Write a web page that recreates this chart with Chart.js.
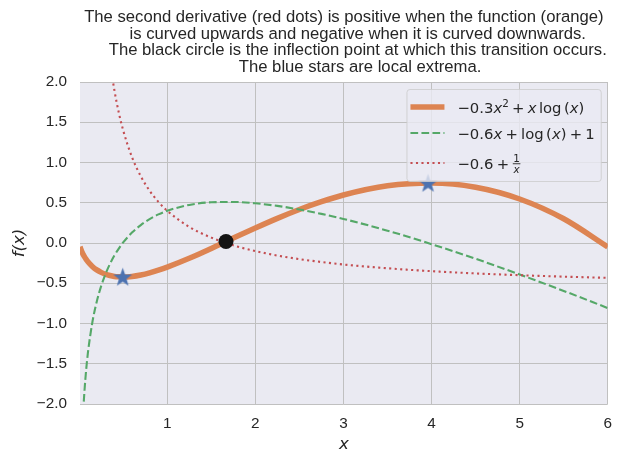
<!DOCTYPE html>
<html>
<head>
<meta charset="utf-8">
<style>
  body { margin: 0; background: #ffffff; }
  .chart-container { width: 623px; height: 463px; }
</style>
</head>
<body>
<script src="https://cdn.jsdelivr.net/npm/chart.js@4.4.0/dist/chart.umd.min.js"></script>
<div class="chart-container"><canvas id="myChart" width="623" height="463"></canvas></div>
<script>
// values
const xs   = [0.01, 0.02, 0.03, 0.04, 0.05, 0.06, 0.08, 0.1, 0.15, 0.2, 0.25, 0.3, 0.35, 0.4, 0.45, 0.5,
              0.6, 0.7, 0.8, 0.9, 1.0, 1.25, 1.5, 1.75, 2.0, 2.25, 2.5, 2.75, 3.0, 3.5, 4.0, 4.5, 5.0, 5.5, 6.0];
const fx   = [-0.046, -0.078, -0.106, -0.129, -0.151, -0.170, -0.204, -0.233, -0.291, -0.334, -0.365, -0.388, -0.404, -0.415, -0.420, -0.422,
              -0.415, -0.397, -0.371, -0.338, -0.300, -0.190, -0.067, 0.061, 0.186, 0.306, 0.416, 0.513, 0.596, 0.710, 0.745, 0.693, 0.547, 0.301, -0.049];
const dfx  = [-3.611, -2.924, -2.525, -2.243, -2.026, -1.849, -1.574, -1.363, -0.987, -0.729, -0.536, -0.384, -0.260, -0.156, -0.069, 0.007,
              0.129, 0.223, 0.297, 0.355, 0.400, 0.473, 0.506, 0.510, 0.493, 0.461, 0.416, 0.362, 0.299, 0.153, -0.014, -0.196, -0.391, -0.595, -0.808];
const ddfx = [99.4, 49.4, 32.73, 24.4, 19.4, 16.07, 11.9, 9.4, 6.07, 4.4, 3.4, 2.733, 2.257, 1.9, 1.622, 1.4,
              1.067, 0.829, 0.65, 0.511, 0.4, 0.2, 0.067, -0.029, -0.1, -0.156, -0.2, -0.236, -0.267, -0.314, -0.35, -0.378, -0.4, -0.418, -0.433];
const extremaX = [0.495, 3.96];
const extremaY = [-0.422, 0.745];
const inflectionX = [1.667];
const inflectionY = [0.018];
const xTicks = [1, 2, 3, 4, 5, 6];
const yTicks = [-2.0, -1.5, -1.0, -0.5, 0.0, 0.5, 1.0, 1.5, 2.0];
const titleLines = [
  'The second derivative (red dots) is positive when the function (orange)',
  '      is curved upwards and negative when it is curved downwards.',
  '      The black circle is the inflection point at which this transition occurs.',
  '       The blue stars are local extrema.'
];
// sp = extra space in em, op = binary operator with medium space round it
const legendLabels = [
  [{t: '\u22120.3'}, {t: 'x', it: 1}, {t: '2', sup: 1}, {t: '+', op: 1}, {t: 'x', it: 1}, {sp: 0.17}, {t: 'log'}, {sp: 0.17}, {t: '('}, {t: 'x', it: 1}, {t: ')'}],
  [{t: '\u22120.6'}, {t: 'x', it: 1}, {t: '+', op: 1}, {t: 'log'}, {sp: 0.17}, {t: '('}, {t: 'x', it: 1}, {t: ')'}, {t: '+', op: 1}, {t: '1'}],
  [{t: '\u22120.6'}, {t: '+', op: 1}, {frac: ['1', 'x']}]
];

const orange = '#DD8452', green = '#55A868', red = '#C44E52', blue = '#4C72B0';
const textColor = '#262626';

const pts = (xa, ya) => xa.map((x, i) => ({x: x, y: ya[i]}));

// filled five point star for the extrema markers
const star = document.createElement('canvas');
star.width = 21; star.height = 21;
(function () {
  const c = star.getContext('2d');
  c.beginPath();
  for (let i = 0; i < 10; i++) {
    const r = i % 2 ? 4.0 : 10.0;
    const a = -Math.PI / 2 + i * Math.PI / 5;
    c.lineTo(10.5 + r * Math.cos(a), 11.2 + r * Math.sin(a));
  }
  c.closePath();
  c.fillStyle = blue;
  c.fill();
})();

// little mathtext-ish writer for the legend
function mathText(ctx, segs, x, y, size, draw) {
  const x0 = x;
  segs.forEach(s => {
    if (s.sp) {
      x += s.sp * size;
    } else if (s.frac) {
      const fs = size * 0.7;
      ctx.font = fs + 'px "DejaVu Sans"';
      const w1 = ctx.measureText(s.frac[0]).width;
      ctx.font = 'italic ' + fs + 'px "DejaVu Sans"';
      const w2 = ctx.measureText(s.frac[1]).width;
      const w = Math.max(w1, w2) + 2;
      if (draw) {
        const axis = y - size * 0.32;
        ctx.fillRect(x + 0.5, axis - 0.45, w - 1, 0.9);
        ctx.font = fs + 'px "DejaVu Sans"';
        ctx.fillText(s.frac[0], x + (w - w1) / 2, axis - 2);
        ctx.font = 'italic ' + fs + 'px "DejaVu Sans"';
        ctx.fillText(s.frac[1], x + (w - w2) / 2, axis + fs * 0.75 + 1);
      }
      x += w;
    } else {
      const fs = s.sup ? size * 0.7 : size;
      const pad = s.op ? 0.22 * size : 0;
      ctx.font = (s.it ? 'italic ' : '') + fs + 'px "DejaVu Sans"';
      if (draw) ctx.fillText(s.t, x + pad, s.sup ? y - size * 0.4 : y);
      x += ctx.measureText(s.t).width + 2 * pad;
    }
  });
  return x - x0;
}

const backdrop = {
  id: 'backdrop',
  beforeDraw(chart) {
    const {ctx, chartArea: a} = chart;
    ctx.save();
    ctx.fillStyle = '#EAEAF2';
    ctx.fillRect(a.left, a.top, a.right - a.left, a.bottom - a.top);
    ctx.restore();
  }
};

// title is centred over the axes, not over the whole canvas
const axesTitle = {
  id: 'axesTitle',
  afterDraw(chart) {
    const {ctx, chartArea: a} = chart;
    ctx.save();
    ctx.fillStyle = textColor;
    ctx.font = '16.67px "Liberation Sans"';
    ctx.textAlign = 'center';
    ctx.textBaseline = 'alphabetic';
    const cx = (a.left + a.right) / 2;
    titleLines.forEach((line, i) => ctx.fillText(line, cx, 22 + i * 16.5));
    ctx.restore();
  }
};

const mathLegend = {
  id: 'mathLegend',
  afterDraw(chart) {
    const {ctx, chartArea: a} = chart;
    const size = 14.8;
    ctx.save();
    let tw = 0;
    legendLabels.forEach(l => { tw = Math.max(tw, mathText(ctx, l, 0, 0, size, false)); });
    const right = a.right - 7, top = a.top + 7;
    const left = right - (57 + tw), h = 92;
    ctx.beginPath();
    ctx.roundRect(left + 0.5, top + 0.5, right - left, h, 3);
    ctx.fillStyle = 'rgba(234,234,242,0.8)';
    ctx.fill();
    ctx.strokeStyle = 'rgba(204,204,204,0.8)';
    ctx.lineWidth = 1;
    ctx.stroke();
    const rows = [18, 44, 74];
    const styles = [
      {c: orange, w: 5.5, d: []},
      {c: green, w: 2.1, d: [7.7, 3.3]},
      {c: red, w: 2.1, d: [2.1, 3.4]}
    ];
    rows.forEach((ry, i) => {
      const st = styles[i];
      ctx.beginPath();
      ctx.setLineDash(st.d);
      ctx.strokeStyle = st.c;
      ctx.lineWidth = st.w;
      ctx.moveTo(left + 4, top + ry);
      ctx.lineTo(left + 38, top + ry);
      ctx.stroke();
      ctx.setLineDash([]);
      ctx.fillStyle = textColor;
      ctx.textBaseline = 'alphabetic';
      mathText(ctx, legendLabels[i], left + 51, top + ry + 5.5, size, true);
    });
    ctx.restore();
  }
};

const tickFont = {family: 'Liberation Sans', size: 15.3};
const fmtY = v => (v < 0 ? '\u2212' : '') + Math.abs(v).toFixed(1);

const myChart = new Chart('myChart', {
  type: 'scatter',
  data: {
    datasets: [
      {data: pts(xs, fx), showLine: true, borderColor: orange, borderWidth: 5.5, pointRadius: 0,
       cubicInterpolationMode: 'monotone', clip: 0, order: 5},
      {data: pts(xs, dfx), showLine: true, borderColor: green, borderWidth: 2.1, borderDash: [7.7, 3.3],
       pointRadius: 0, cubicInterpolationMode: 'monotone', clip: 0, order: 4},
      {data: pts(xs, ddfx), showLine: true, borderColor: red, borderWidth: 2.1, borderDash: [2.1, 3.4],
       pointRadius: 0, cubicInterpolationMode: 'monotone', clip: 0, order: 3},
      {data: pts(extremaX, extremaY), pointStyle: star, pointRadius: 9, order: 2},
      {data: pts(inflectionX, inflectionY), pointStyle: 'circle', pointRadius: 7.5,
       backgroundColor: '#141414', borderWidth: 0, order: 1}
    ]
  },
  options: {
    responsive: false,
    animation: false,
    events: [],
    layout: {padding: {left: 0, right: 14, top: 82, bottom: 0}},
    plugins: {
      legend: {display: false},
      tooltip: {enabled: false},
      title: {display: false}
    },
    scales: {
      x: {
        type: 'linear', min: 0.01, max: 6,
        afterBuildTicks: s => { s.ticks = xTicks.map(v => ({value: v})); },
        afterFit: s => { s.height = 59; },
        grid: {color: '#c0c0c0', lineWidth: 1, drawTicks: false},
        border: {display: false},
        ticks: {padding: 11, color: textColor, font: tickFont, callback: v => String(v)},
        title: {display: true, text: 'x', color: textColor,
                font: {family: 'DejaVu Sans', size: 16.67, style: 'italic'}, padding: {top: 0, bottom: 8}}
      },
      y: {
        type: 'linear', min: -2, max: 2,
        afterBuildTicks: s => { s.ticks = yTicks.map(v => ({value: v})); },
        afterFit: s => { s.width = 80; },
        grid: {color: '#c0c0c0', lineWidth: 1, drawTicks: false},
        border: {display: false},
        ticks: {padding: 13, color: textColor, font: tickFont, callback: fmtY},
        title: {display: true, text: 'f(x)', color: textColor,
                font: {family: 'DejaVu Sans', size: 16.67, style: 'italic'}, padding: {top: 9.5, bottom: 0}}
      }
    }
  },
  plugins: [backdrop, axesTitle, mathLegend]
});
</script>
</body>
</html>
